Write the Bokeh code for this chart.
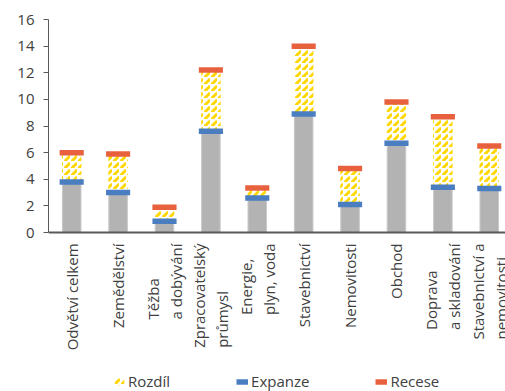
import math
from bokeh.plotting import figure
from bokeh.core.properties import value
from bokeh.models import (Range1d, Legend, LegendItem, FixedTicker, ColumnDataSource,
                          LabelSet, Span)
from bokeh.embed import file_html
from bokeh.resources import INLINE

categories = ["Odvětví celkem", "Zemědělství", "Těžba\na dobývání", "Zpracovatelský\nprůmysl",
              "Energie,\nplyn, voda", "Stavebnictví", "Nemovitosti", "Obchod",
              "Doprava\na skladování", "Stavebnictví a\nnemovitosti"]
expanze = [3.8, 3.0, 0.85, 7.6, 2.6, 8.9, 2.1, 6.7, 3.4, 3.3]
recese = [6.0, 5.9, 1.9, 12.2, 3.35, 14.0, 4.8, 9.8, 8.7, 6.5]
y_ticks = [0, 2, 4, 6, 8, 10, 12, 14, 16]

FONT = "Open Sans"
FS = "15px"
W, H = 505, 391
TOP, LEFT = 19, 48
AXIS_PX = 213               # pixel height of the 0..16 value axis
Y_MAX = y_ticks[-1]
frame_h = H - TOP
y_min = -(frame_h - AXIS_PX) * Y_MAX / AXIS_PX   # room below the bars for labels & legend

xs = list(range(len(categories)))
half = 0.26
src = ColumnDataSource(dict(
    x=xs, x0=[i - half for i in xs], x1=[i + half for i in xs],
    expanze=expanze, recese=recese, label=categories,
))

p = figure(width=W, height=H, x_range=Range1d(-0.5, 9.35), y_range=Range1d(y_min, Y_MAX),
           output_backend="svg", toolbar_location=None,
           min_border_left=LEFT, min_border_right=0, min_border_top=TOP, min_border_bottom=0)
p.outline_line_color = None
p.grid.visible = False
p.background_fill_color = "white"
p.xaxis.visible = False

gray = p.vbar(x="x", width=0.40, top="expanze", bottom=0, source=src,
              fill_color="#B3B3B3", line_color="#C9C9C9", line_width=1)
hatch = p.vbar(x="x", width=0.42, bottom="expanze", top="recese", source=src,
               fill_color="white", line_color=None,
               hatch_pattern="right_diagonal_dash", hatch_color="#FFD700",
               hatch_weight=3, hatch_scale=7)
blue = p.segment(x0="x0", x1="x1", y0="expanze", y1="expanze", source=src,
                 line_color="#4A7EC0", line_width=5.5)
red = p.segment(x0="x0", x1="x1", y0="recese", y1="recese", source=src,
                line_color="#E8613F", line_width=5.5)

# category axis line at zero
p.add_layout(Span(location=0, dimension="width", line_color="#595959", line_width=2))

# category labels
labels = LabelSet(x="x", y=0, text="label", source=src, y_offset=-11,
                  angle=math.pi / 2, text_align="right", text_baseline="middle",
                  text_font=value(FONT), text_font_size=value(FS), text_color=value("#404040"),
                  text_line_height=1.15)
p.add_layout(labels)

# y axis
p.yaxis.ticker = FixedTicker(ticks=y_ticks)
p.yaxis.bounds = (y_ticks[0], y_ticks[-1])
p.yaxis.axis_line_color = "#595959"
p.yaxis.major_tick_line_color = "#595959"
p.yaxis.major_tick_out = 5
p.yaxis.major_tick_in = 0
p.yaxis.minor_tick_line_color = None
p.yaxis.major_label_text_font = FONT
p.yaxis.major_label_text_font_size = FS
p.yaxis.major_label_text_color = "#404040"
p.yaxis.major_label_standoff = 9

legend = Legend(items=[LegendItem(label="Rozdíl", renderers=[hatch]),
                       LegendItem(label="Expanze", renderers=[blue]),
                       LegendItem(label="Recese", renderers=[red])],
                orientation="horizontal", location=(65, 0), spacing=66,
                glyph_width=12, glyph_height=9, label_standoff=3,
                label_text_font=FONT, label_text_font_size=FS,
                label_text_color="#404040", border_line_color=None,
                background_fill_alpha=0, padding=0, margin=0)
p.add_layout(legend, "center")

open("out.html", "w").write(file_html(p, INLINE))
